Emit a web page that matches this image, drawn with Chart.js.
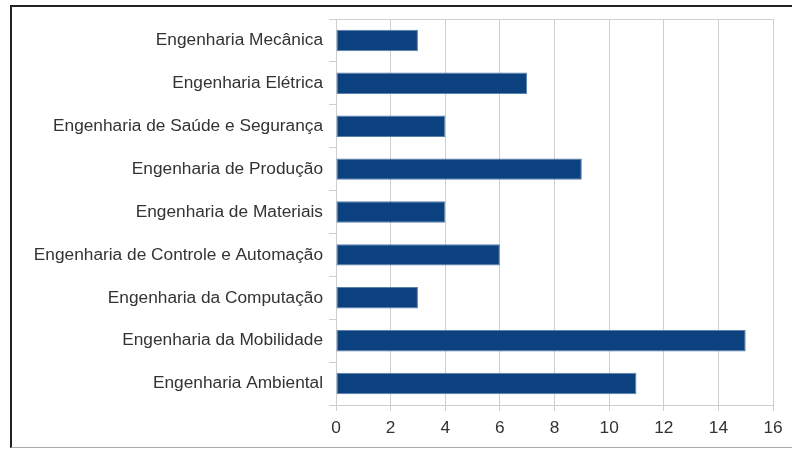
<!DOCTYPE html>
<html>
<head>
<meta charset="utf-8">
<script src="https://cdn.jsdelivr.net/npm/chart.js@4"></script>
<style>
  html, body { margin: 0; padding: 0; background: #fff; }
  #wrap { position: relative; width: 792px; height: 449px; overflow: hidden; }
  #frame { position: absolute; left: 10px; top: 5px; width: 800px; height: 440px;
    border-top: 2px solid #222; border-left: 2px solid #222; border-bottom: 1px solid #aaa; }
  canvas { position: absolute; left: 0; top: 0; }
</style>
</head>
<body>
<div id="wrap">
  <div id="frame"></div>
  <canvas id="chart" width="792" height="449"></canvas>
</div>
<script>
// categories, top to bottom as in the picture
const courses = [
  'Engenharia Mecânica',
  'Engenharia Elétrica',
  'Engenharia de Saúde e Segurança',
  'Engenharia de Produção',
  'Engenharia de Materiais',
  'Engenharia de Controle e Automação',
  'Engenharia da Computação',
  'Engenharia da Mobilidade',
  'Engenharia Ambiental'
];
const counts = [3, 7, 4, 9, 4, 6, 3, 15, 11];
const xTicks = [0, 2, 4, 6, 8, 10, 12, 14, 16];

const gridGray = '#cfcfcf';
const textGray = '#333';

new Chart(document.getElementById('chart'), {
  type: 'bar',
  data: {
    labels: courses,
    datasets: [{
      data: counts,
      backgroundColor: '#0c417f',
      borderColor: '#5a80ad',
      borderWidth: 1,
      borderSkipped: false,
      categoryPercentage: 0.5,
      barPercentage: 1
    }]
  },
  options: {
    indexAxis: 'y',
    responsive: false,
    animation: false,
    layout: { padding: { left: 0, right: 19, top: 19, bottom: 0 } },
    plugins: { legend: { display: false }, tooltip: { enabled: false } },
    scales: {
      x: {
        min: xTicks[0],
        max: xTicks[xTicks.length - 1],
        afterBuildTicks: s => { s.ticks = xTicks.map(v => ({ value: v })); },
        afterFit: s => { s.height = 44; },
        grid: { color: gridGray, lineWidth: 1, tickLength: 6, tickColor: gridGray },
        border: { color: gridGray },
        ticks: { color: textGray, font: { family: 'Liberation Sans', size: 17.3 }, padding: 7 }
      },
      y: {
        afterFit: s => { s.width = 336; },
        grid: {
          offset: true,
          color: c => (c.index === 0 || c.index === courses.length) ? gridGray : 'rgba(0,0,0,0)',
          tickColor: gridGray,
          tickLength: 7
        },
        border: { color: gridGray },
        ticks: { color: textGray, font: { family: 'Liberation Sans', size: 17.3 }, padding: 6 }
      }
    }
  }
});
</script>
</body>
</html>
